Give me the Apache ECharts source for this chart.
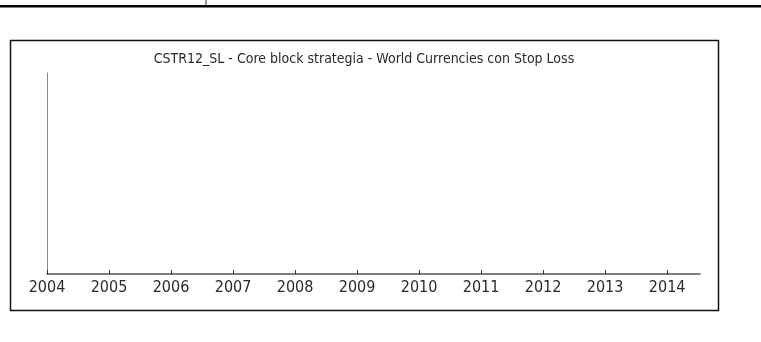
<!DOCTYPE html>
<html>
<head>
<meta charset="utf-8">
<script src="https://cdn.jsdelivr.net/npm/echarts@6/dist/echarts.min.js"></script>
<style>
  html, body { margin: 0; padding: 0; background: #fff; }
  #chart { width: 761px; height: 342px; }
</style>
</head>
<body>
<div id="chart"></div>
<script>
// Chart title and year ticks of the time axis
const chartTitle = 'CSTR12_SL - Core block strategia - World Currencies con Stop Loss';
const years = [2004, 2005, 2006, 2007, 2008, 2009, 2010, 2011, 2012, 2013, 2014];
// Equity values (the series has no points to plot)
const equity = [];

const chart = echarts.init(document.getElementById('chart'), null, { renderer: 'canvas' });

chart.setOption({
  backgroundColor: '#ffffff',
  animation: false,
  title: {
    text: chartTitle,
    left: 359,
    textAlign: 'center',
    top: 47,
    textStyle: {
      fontFamily: 'DejaVu Sans Condensed, Liberation Sans, Arial, sans-serif',
      fontSize: 14,
      fontWeight: 'normal',
      color: '#2a2a2a'
    }
  },
  grid: { left: 47, top: 73, width: 653, height: 201, containLabel: false },
  xAxis: {
    type: 'value',
    min: 2004,
    max: 2014.53,
    interval: 1,
    splitLine: { show: false },
    axisLine: { lineStyle: { color: '#555555', width: 1.5 } },
    axisTick: { inside: true, length: 4, customValues: years, lineStyle: { color: '#333333' } },
    axisLabel: {
      customValues: years,
      formatter: (v) => String(v),
      margin: 6,
      fontFamily: 'DejaVu Sans Condensed, Liberation Sans, Arial, sans-serif',
      fontSize: 16,
      color: '#2a2a2a'
    }
  },
  yAxis: {
    type: 'value',
    min: 0,
    max: 1,
    splitLine: { show: false },
    axisLine: { show: true, lineStyle: { color: '#8a8a8a', width: 1 } },
    axisTick: { show: false },
    axisLabel: { show: false }
  },
  series: [{
    type: 'line',
    data: equity,
    symbol: 'none'
  }],
  graphic: [
    // heavy rule across the top of the page
    { type: 'rect', shape: { x: 0, y: 5, width: 761, height: 2.5 }, style: { fill: '#000000' }, silent: true },
    { type: 'line', shape: { x1: 206, y1: 0, x2: 206, y2: 5 }, style: { stroke: '#333333', lineWidth: 1 }, silent: true },
    // frame around the chart panel
    { type: 'rect', shape: { x: 10.5, y: 40.5, width: 708, height: 270 }, style: { fill: null, stroke: '#111111', lineWidth: 1.5 }, silent: true }
  ]
});
</script>
</body>
</html>
